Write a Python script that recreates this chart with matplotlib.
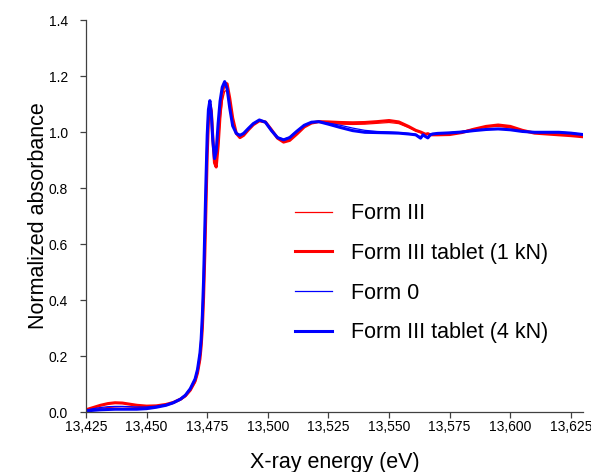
# XANES spectra of Form III / Form 0 and tablets (normalized)

import matplotlib
matplotlib.use("Agg")
import matplotlib.pyplot as plt

plt.rcParams['font.family'] = ['Liberation Sans', 'DejaVu Sans']

# X-ray energy (eV), shared by all four spectra
energy = [13425, 13428, 13431, 13434, 13437, 13440, 13443, 13446, 13450, 13454,
          13458, 13461, 13464, 13466, 13468, 13470, 13471, 13472, 13472.5, 13473,
          13473.5, 13474, 13474.5, 13475, 13475.5, 13476.1, 13476.7, 13477.3, 13478, 13478.7,
          13479.5, 13480.3, 13481.2, 13482.2, 13483.2, 13484.3, 13485.5, 13487, 13488.5, 13490,
          13492, 13494, 13496.5, 13499, 13501.5, 13504, 13506.5, 13509, 13512, 13515,
          13518, 13521, 13525, 13530, 13535, 13540, 13545, 13550, 13554, 13558,
          13561, 13563, 13564, 13565, 13566, 13567, 13568, 13570, 13575, 13580,
          13585, 13590, 13595, 13600, 13605, 13610, 13615, 13620, 13625, 13630]

form3 = [0.005, 0.009, 0.013, 0.016, 0.018, 0.019, 0.018, 0.016, 0.015, 0.017,
         0.023, 0.031, 0.043, 0.055, 0.075, 0.105, 0.135, 0.18, 0.225, 0.29,
         0.40, 0.55, 0.73, 0.91, 1.03, 1.09, 1.07, 0.98, 0.895, 0.88,
         0.94, 1.04, 1.11, 1.145, 1.15, 1.11, 1.045, 0.995, 0.982, 0.99,
         1.01, 1.027, 1.04, 1.035, 1.006, 0.977, 0.966, 0.973, 0.995, 1.02,
         1.033, 1.037, 1.032, 1.028, 1.027, 1.028, 1.031, 1.034, 1.03, 1.016,
         1.004, 0.998, 0.995, 0.993, 0.995, 0.993, 0.994, 0.995, 0.997, 1.002,
         1.011, 1.018, 1.02, 1.015, 1.004, 0.997, 0.995, 0.993, 0.99, 0.987]

form3_1kn = [0.008, 0.016, 0.024, 0.030, 0.033, 0.032, 0.028, 0.024, 0.021, 0.022,
             0.027, 0.034, 0.046, 0.058, 0.078, 0.11, 0.14, 0.19, 0.235, 0.30,
             0.41, 0.56, 0.74, 0.92, 1.04, 1.10, 1.075, 0.98, 0.89, 0.875,
             0.95, 1.06, 1.14, 1.175, 1.172, 1.12, 1.05, 0.995, 0.98, 0.988,
             1.008, 1.026, 1.04, 1.036, 1.008, 0.978, 0.964, 0.97, 0.993, 1.018,
             1.032, 1.037, 1.036, 1.034, 1.033, 1.034, 1.037, 1.041, 1.036, 1.02,
             1.006, 1.0, 0.996, 0.992, 0.994, 0.99, 0.99, 0.99, 0.991, 0.998,
             1.01, 1.02, 1.025, 1.02, 1.006, 0.996, 0.993, 0.99, 0.987, 0.983]

form0 = [0.007, 0.012, 0.016, 0.019, 0.020, 0.020, 0.019, 0.018, 0.018, 0.021,
         0.027, 0.035, 0.048, 0.062, 0.085, 0.12, 0.155, 0.215, 0.265, 0.35,
         0.48, 0.66, 0.84, 0.99, 1.08, 1.11, 1.06, 0.965, 0.91, 0.935,
         1.03, 1.11, 1.155, 1.175, 1.15, 1.085, 1.025, 0.997, 0.99, 0.996,
         1.014, 1.03, 1.043, 1.035, 1.006, 0.982, 0.974, 0.982, 1.004, 1.024,
         1.035, 1.037, 1.032, 1.024, 1.014, 1.006, 1.002, 1.0, 0.998, 0.995,
         0.992, 0.982, 0.992, 0.986, 0.982, 0.99, 0.993, 0.995, 0.998, 1.002,
         1.006, 1.01, 1.012, 1.009, 1.003, 0.999, 1.0, 1.0, 0.997, 0.992]

form3_4kn = [0.004, 0.006, 0.008, 0.009, 0.010, 0.010, 0.010, 0.010, 0.012, 0.017,
             0.024, 0.033, 0.046, 0.06, 0.083, 0.118, 0.152, 0.21, 0.26, 0.345,
             0.47, 0.65, 0.83, 0.99, 1.08, 1.112, 1.065, 0.97, 0.905, 0.93,
             1.03, 1.11, 1.16, 1.18, 1.155, 1.085, 1.022, 0.995, 0.988, 0.995,
             1.013, 1.03, 1.043, 1.035, 1.005, 0.98, 0.972, 0.98, 1.003, 1.024,
             1.035, 1.037, 1.028, 1.016, 1.005, 0.999, 0.998, 0.997, 0.996, 0.993,
             0.99, 0.978, 0.99, 0.984, 0.979, 0.99, 0.993, 0.995, 0.997, 1.0,
             1.005, 1.009, 1.011, 1.008, 1.002, 0.999, 0.999, 0.999, 0.996, 0.991]

labels = ["Form III", "Form III tablet (1 kN)", "Form 0", "Form III tablet (4 kN)"]

xticks = [13425, 13450, 13475, 13500, 13525, 13550, 13575, 13600, 13625]
xtick_labels = ["13,425", "13,450", "13,475", "13,500", "13,525",
                "13,550", "13,575", "13,600", "13,625"]
yticks = [0.0, 0.2, 0.4, 0.6, 0.8, 1.0, 1.2, 1.4]
ytick_labels = ["0.0", "0.2", "0.4", "0.6", "0.8", "1.0", "1.2", "1.4"]

fig = plt.figure(figsize=(5.91, 4.72), dpi=100)
ax = fig.add_axes([0.1455, 0.1271, 0.841, 0.8305])

ax.plot(energy, form3, color='#ff0000', lw=0.9, label=labels[0])
ax.plot(energy, form3_1kn, color='#ff0000', lw=2.2, label=labels[1])
ax.plot(energy, form0, color='#0000ff', lw=0.9, label=labels[2])
ax.plot(energy, form3_4kn, color='#0000ff', lw=2.2, label=labels[3])

ax.set_xlim(13425, 13630)
ax.set_ylim(0, 1.4)
ax.set_xticks(xticks)
ax.set_xticklabels(xtick_labels)
ax.set_yticks(yticks)
ax.set_yticklabels(ytick_labels)

for s in ['top', 'right']:
    ax.spines[s].set_visible(False)
for s in ['left', 'bottom']:
    ax.spines[s].set_color('#404040')
    ax.spines[s].set_linewidth(0.9)

ax.tick_params(axis='both', direction='out', length=4, width=0.9, color='#404040',
               labelsize=10, labelcolor='black')
ax.tick_params(axis='x', pad=1.5)
ax.tick_params(axis='y', pad=9)

ax.set_xlabel("X-ray energy (eV)", fontsize=15.5)
ax.set_ylabel("Normalized absorbance", fontsize=15.5)
ax.xaxis.set_label_coords(0.5, -0.102)
ax.yaxis.set_label_coords(-0.074, 0.5)

ax.legend(loc='center left', bbox_to_anchor=(0.4205, 0.354), frameon=False,
          fontsize=15.5, borderpad=0, borderaxespad=0, handlelength=1.72,
          handletextpad=0.88, labelspacing=0.87)

plt.savefig("out.png", dpi=100)
